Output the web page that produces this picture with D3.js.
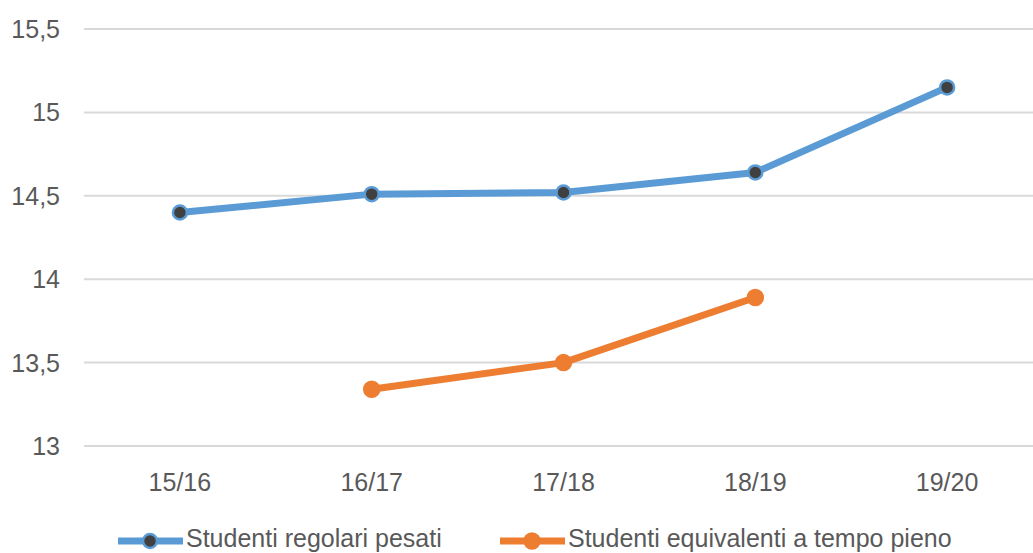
<!DOCTYPE html>
<html>
<head>
<meta charset="utf-8">
<script src="https://cdn.jsdelivr.net/npm/d3@7"></script>
<style>
  body { margin: 0; background: #fff; }
  text { font-family: "Liberation Sans", Arial, sans-serif; fill: #595959; }
</style>
</head>
<body>
<script>
//// Data ////
const years = ["15/16", "16/17", "17/18", "18/19", "19/20"]
const regolari = [14.40, 14.51, 14.52, 14.64, 15.15]
const equivalenti = [null, 13.34, 13.50, 13.89, null]
const yTicks = [13, 13.5, 14, 14.5, 15, 15.5]
const seriesNames = ["Studenti regolari pesati", "Studenti equivalenti a tempo pieno"]

//// Layout ////
const WIDTH = 1033
const HEIGHT = 553
const blue = "#5B9BD5"
const orange = "#ED7D31"

const svg = d3.select("body").append("svg")
    .attr("width", WIDTH)
    .attr("height", HEIGHT)

const x = d3.scalePoint().domain(years).range([84, 1043]).padding(0.5)
const y = d3.scaleLinear().domain([13, 15.5]).range([446, 29])

// gridlines
svg.append("g").selectAll("line")
    .data(yTicks)
    .join("line")
    .attr("x1", 84).attr("x2", WIDTH)
    .attr("y1", d => y(d)).attr("y2", d => y(d))
    .attr("stroke", "#d9d9d9")
    .attr("stroke-width", 2)

// y labels
const fmt = d => String(d).replace(".", ",")
svg.append("g").selectAll("text")
    .data(yTicks)
    .join("text")
    .attr("x", 60)
    .attr("y", d => y(d))
    .attr("dy", "0.36em")
    .attr("text-anchor", "end")
    .style("font-size", "25px")
    .text(fmt)

// x labels
svg.append("g").selectAll("text")
    .data(years)
    .join("text")
    .attr("x", d => x(d))
    .attr("y", 491)
    .attr("text-anchor", "middle")
    .style("font-size", "25px")
    .text(d => d)

const line = d3.line()
    .defined(d => d.v != null)
    .x(d => x(d.year))
    .y(d => y(d.v))

function drawSeries(values, color, markFill, r) {
    const pts = years.map((yr, i) => ({ year: yr, v: values[i] }))
    svg.append("path")
        .datum(pts)
        .attr("d", line)
        .attr("fill", "none")
        .attr("stroke", color)
        .attr("stroke-width", 7)
        .attr("stroke-linejoin", "round")
    svg.append("g").selectAll("circle")
        .data(pts.filter(d => d.v != null))
        .join("circle")
        .attr("cx", d => x(d.year))
        .attr("cy", d => y(d.v))
        .attr("r", r)
        .attr("fill", markFill)
        .attr("stroke", color)
        .attr("stroke-width", 2.5)
}

drawSeries(regolari, blue, "#404040", 7)
drawSeries(equivalenti, orange, orange, 7.5)

// legend
const legend = [
    { name: seriesNames[0], color: blue, fill: "#404040", x0: 118, r: 7 },
    { name: seriesNames[1], color: orange, fill: orange, x0: 500, r: 7.5 }
]
const ly = 541
legend.forEach(l => {
    svg.append("line")
        .attr("x1", l.x0).attr("x2", l.x0 + 65)
        .attr("y1", ly).attr("y2", ly)
        .attr("stroke", l.color)
        .attr("stroke-width", 7)
    svg.append("circle")
        .attr("cx", l.x0 + 32).attr("cy", ly)
        .attr("r", l.r)
        .attr("fill", l.fill)
        .attr("stroke", l.color)
        .attr("stroke-width", 2.5)
    svg.append("text")
        .attr("x", l.x0 + 68)
        .attr("y", 538)
        .attr("dy", "0.36em")
        .style("font-size", "25px")
        .text(l.name)
})
</script>
</body>
</html>
